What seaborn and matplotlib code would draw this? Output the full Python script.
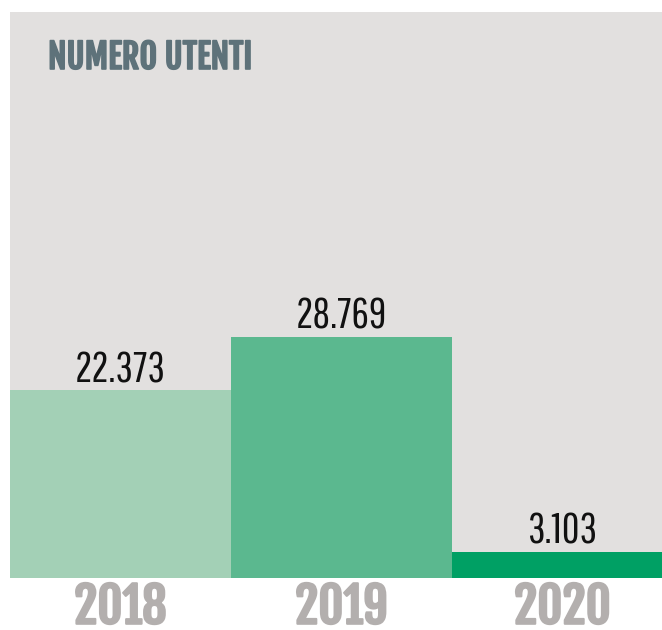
import matplotlib
matplotlib.use('Agg')
import matplotlib.pyplot as plt
import matplotlib.patheffects as pe
import pandas as pd
import seaborn as sns

years = ['2018', '2019', '2020']
utenti = [22373, 28769, 3103]
value_labels = ['22.373', '28.769', '3.103']
bar_colors = ['#a3d0b6', '#5bb88f', '#00a064']

TITLE = 'NUMERO UTENTI'

sns.set_style('white')
plt.rcParams['font.family'] = ['Roboto Condensed', 'DejaVu Sans']

df = pd.DataFrame({'anno': years, 'utenti': utenti})

fig = plt.figure(figsize=(6.62, 6.30), dpi=100)
ax = fig.add_axes([10 / 662, 52 / 630, 1 - 10 / 662, 566 / 630])
ax.set_facecolor('#e2e0df')

sns.barplot(data=df, x='anno', y='utenti', hue='anno', palette=bar_colors,
            width=1.0, legend=False, ax=ax, saturation=1)
for p in ax.patches:
    p.set_edgecolor('none')

ax.set_xlim(-0.5, 2.45)
ax.set_ylim(0, 67500)

# valori sopra le barre
for i, (v, lab) in enumerate(zip(utenti, value_labels)):
    ax.annotate(lab, (i, v), xytext=(0, 6), textcoords='offset points',
                ha='center', va='baseline', fontsize=31,
                color='#111111', family=['Pathway Gothic One', 'DejaVu Sans'])

bold = [pe.withStroke(linewidth=1.2, foreground='#5e727a')]
ax.text(38 / 652, 1 - 45.5 / 566, TITLE, transform=ax.transAxes,
        fontsize=24.5, color='#5e727a', va='center', ha='left',
        family=['Fjalla One', 'DejaVu Sans'], path_effects=bold)

ax.set_xlabel('')
ax.set_ylabel('')
ax.set_yticks([])
ax.tick_params(axis='x', length=0, pad=2)
for t in ax.get_xticklabels():
    t.set_fontsize(35)
    t.set_family(['Fjalla One', 'DejaVu Sans'])
    t.set_color('#b3afae')
    t.set_path_effects([pe.withStroke(linewidth=1.5, foreground='#b3afae')])
for s in ax.spines.values():
    s.set_visible(False)

fig.savefig('out.png', dpi=100, facecolor='white')
